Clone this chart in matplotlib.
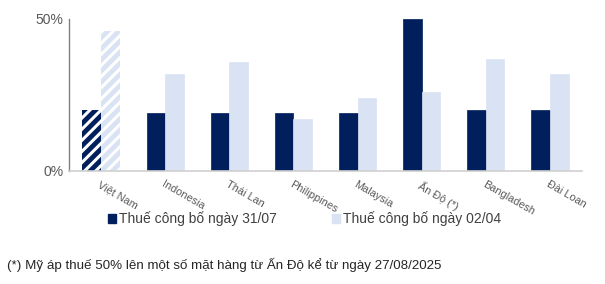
import matplotlib
matplotlib.use("Agg")
import matplotlib.pyplot as plt
import numpy as np
from matplotlib.patches import Patch

plt.rcParams['font.family'] = ['Liberation Sans', 'DejaVu Sans']
plt.rcParams['hatch.linewidth'] = 2.2

countries = ["Việt Nam", "Indonesia", "Thái Lan", "Philippines", "Malaysia",
             "Ấn Độ (*)", "Bangladesh", "Đài Loan"]
tax_3107 = [20, 19, 19, 19, 19, 50, 20, 20]
tax_0204 = [46, 32, 36, 17, 24, 26, 37, 32]

dark = "#001F5C"
light = "#DAE3F3"

fig = plt.figure(figsize=(6.05, 2.84), dpi=100)
ax = fig.add_axes([69/605, 1 - 171/284, 513/605, 152/284])

x = np.arange(len(countries))
w = 0.29
b1 = ax.bar(x - w/2, tax_3107, w, color=dark, edgecolor=dark, linewidth=0.5)
b2 = ax.bar(x + w/2, tax_0204, w, color=light, edgecolor=light, linewidth=0.5)

# Việt Nam bars are striped
for b in (b1[0], b2[0]):
    b.set_hatch("///")
    b.set_edgecolor("white")
    b.set_linewidth(0)

ax.set_xlim(-0.5, len(countries) - 0.5)
ax.set_ylim(0, 50)
ax.set_yticks([0, 50])
ax.set_yticklabels(["0%", "50%"], color="#595959", fontsize=10)
ax.set_xticks(x)
ax.set_xticklabels(countries, rotation=-30, ha="left", va="top",
                   rotation_mode="anchor", color="#595959", fontsize=7.8)
ax.tick_params(axis="both", length=0, pad=4)
ax.tick_params(axis="x", pad=6)

for s in ("top", "right"):
    ax.spines[s].set_visible(False)
ax.spines["left"].set_color("#808080")
ax.spines["left"].set_linewidth(1)
ax.spines["bottom"].set_color("#D0D0D0")
ax.spines["bottom"].set_linewidth(1.2)

handles = [Patch(color=dark), Patch(color=light)]
fig.legend(handles, ["Thuế công bố ngày 31/07", "Thuế công bố ngày 02/04"],
           loc="center left", bbox_to_anchor=(95/605, 1 - 219/284), ncol=2,
           frameon=False, fontsize=10, handlelength=0.6, handleheight=0.6,
           handletextpad=0.2, columnspacing=4.0, labelcolor="#404040")

fig.text(7/605, 1 - 265/284,
         "(*) Mỹ áp thuế 50% lên một số mặt hàng từ Ấn Độ kể từ ngày 27/08/2025",
         fontsize=9.6, color="#262626", va="center")

fig.savefig("out.png", dpi=100)
